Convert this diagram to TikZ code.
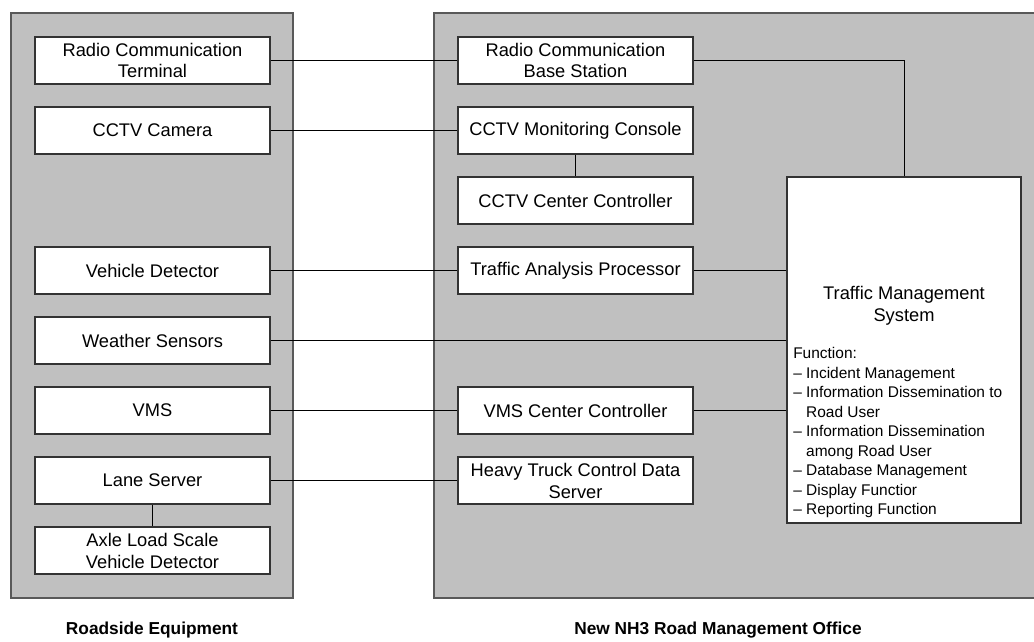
\documentclass[tikz,border=0pt]{standalone}
\usepackage{fontspec}
\setmainfont{Liberation Sans}
\definecolor{panelgray}{HTML}{C0C0C0}

\begin{document}
\begin{tikzpicture}[x=0.025cm, y=-0.025cm,
  panel/.style={draw=black!65, line width=1pt, fill=panelgray},
  unit/.style={draw=black!80, line width=0.8pt, fill=white, minimum width=5.875cm, minimum height=1.175cm, align=center, inner sep=0pt, font=\fontsize{13}{15.6}\selectfont},
  link/.style={draw=black, line width=0.7pt},
  caption/.style={font=\fontsize{12.3}{14}\selectfont\bfseries}]
\useasboundingbox (0,0) rectangle (1034,642);
\clip (0,0) rectangle (1034,642);
\draw[panel] (11,13) rectangle (293,598);
\draw[panel] (434,13) rectangle (1045,598);

\node[unit] (rct) at (152.5,60.5) {Radio Communication\\Terminal};
\node[unit] (cam) at (152.5,130.5) {CCTV Camera};
\node[unit] (vd) at (152.5,270.5) {Vehicle Detector};
\node[unit] (ws) at (152.5,340.5) {Weather Sensors};
\node[unit] (vms) at (152.5,410.5) {VMS};
\node[unit] (ls) at (152.5,480.5) {Lane Server};
\node[unit] (axle) at (152.5,550.5) {Axle Load Scale\\Vehicle Detector};

\node[unit] (rbs) at (575.5,60.5) {Radio Communication\\Base Station};
\node[unit] (cmc) at (575.5,130.5) {CCTV Monitoring Console};
\node[unit] (ccc) at (575.5,200.5) {CCTV Center Controller};
\node[unit] (tap) at (575.5,270.5) {Traffic Analysis Processor};
\node[unit] (vmscc) at (575.5,410.5) {VMS Center Controller};
\node[unit] (htc) at (575.5,480.5) {Heavy Truck Control Data\\Server};

\node[unit, minimum width=5.85cm, minimum height=8.65cm] (tms) at (904,350) {};
\node[align=center, inner sep=0pt, font=\fontsize{13}{15.6}\selectfont] (tmstitle) at (904,306) {Traffic Management\\System};
\node[anchor=north west, align=left, inner sep=0pt, font=\fontsize{11}{13.9}\selectfont] (tmsfunc) at (793,347) {Function:\\
-- Incident Management\\
-- Information Dissemination to\\
\phantom{-- }Road User\\
-- Information Dissemination\\
\phantom{-- }among Road User\\
-- Database Management\\
-- Display Functior\\
-- Reporting Function};

\draw[link] (rct) -- (rbs);
\draw[link] (rbs) -| (tms);
\draw[link] (cam) -- (cmc);
\draw[link] (cmc) -- (ccc);
\draw[link] (vd) -- (tap);
\draw[link] (tap.east) -- (tap.east -| tms.west);
\draw[link] (ws.east) -- (ws.east -| tms.west);
\draw[link] (vms) -- (vmscc);
\draw[link] (vmscc.east) -- (vmscc.east -| tms.west);
\draw[link] (ls) -- (htc);
\draw[link] (ls) -- (axle);

\node[caption] (roadside) at (152,630) {Roadside Equipment};
\node[caption] (office) at (718,630) {New NH3 Road Management Office};
\end{tikzpicture}
\end{document}
